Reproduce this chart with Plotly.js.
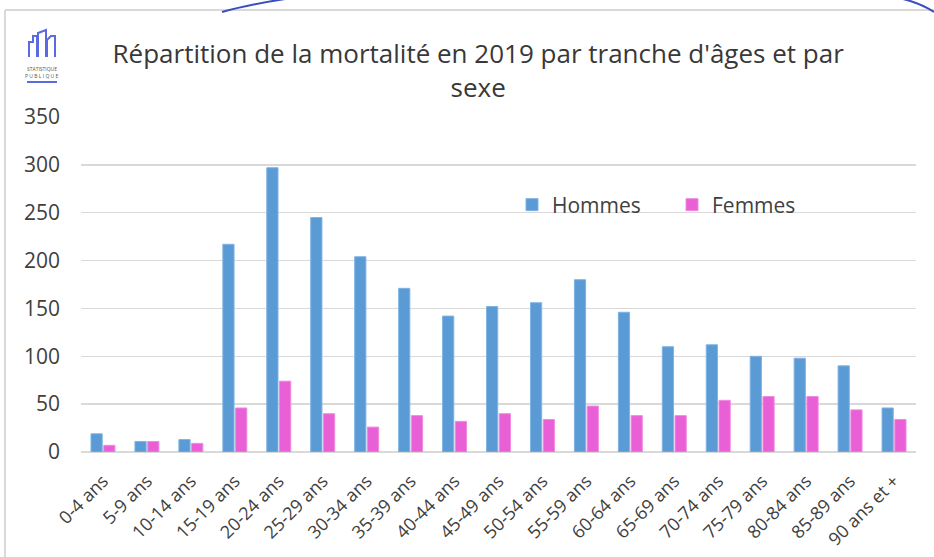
<!DOCTYPE html>
<html>
<head>
<meta charset="utf-8">
<script src="https://cdn.plot.ly/plotly-3.0.1.min.js"></script>
<style>html,body{margin:0;padding:0;background:#fff;}#chart{width:934px;height:557px;}</style>
</head>
<body>
<div id="chart"></div>
<script>
var categories = ["0-4 ans","5-9 ans","10-14 ans","15-19 ans","20-24 ans","25-29 ans","30-34 ans","35-39 ans","40-44 ans","45-49 ans","50-54 ans","55-59 ans","60-64 ans","65-69 ans","70-74 ans","75-79 ans","80-84 ans","85-89 ans","90 ans et +"];
var hommes = [19,11,13,217,297,245,204,171,142,152,156,180,146,110,112,100,98,90,46];
var femmes = [7,11,9,46,74,40,26,38,32,40,34,48,38,38,54,58,58,44,34];
var yTicks = [0,50,100,150,200,250,300,350];

var textColor = "#404040";
var FONT = "Open Sans, Liberation Sans, Arial, sans-serif";
var traces = [
  {type:"bar", name:"Hommes", x:categories, y:hommes, marker:{color:"#5b9bd5", line:{color:"#7fb3e3", width:1}}},
  {type:"bar", name:"Femmes", x:categories, y:femmes, marker:{color:"#e95fd5", line:{color:"#f08ae0", width:1}}}
];
// pixel -> paper helpers for decorations
function px(x){return (x-81)/(934-81-18);}
function py(y){return (557-105-y)/(557-117-105);}

var layout = {
  width:934, height:557,
  margin:{l:81, r:18, t:117, b:105},
  paper_bgcolor:"#fff", plot_bgcolor:"#fff",
  font:{family:FONT, color:textColor},
  title:{text:"Répartition de la mortalité en 2019 par tranche d'âges et par<br>sexe", x:0.512, xanchor:"center", y:1-63/557, yanchor:"middle", font:{size:26, color:"#383838", family:FONT}},
  barmode:"group", bargap:0.42, bargroupgap:0.12,
  showlegend:true,
  legend:{orientation:"h", x:px(512), y:py(205), xanchor:"left", yanchor:"middle", font:{size:21, color:textColor, family:FONT}, bgcolor:"rgba(0,0,0,0)", entrywidth:115, entrywidthmode:"pixels", traceorder:"normal"},
  xaxis:{type:"category", tickangle:-45, tickfont:{size:18, color:textColor, family:FONT}, showgrid:false, showline:false, ticks:"", zeroline:false, automargin:false, ticklabelstandoff:14},
  yaxis:{range:[0,350], tickvals:yTicks, tickfont:{size:21, color:textColor, family:FONT}, gridcolor:"#d9d9d9", gridwidth:1.5, zeroline:true, zerolinecolor:"#d9d9d9", zerolinewidth:1.5, showline:false, ticks:"", ticklabelstandoff:20, automargin:false}
};
layout.shapes = [
  {type:"line", xref:"paper", yref:"paper", x0:px(5), x1:px(5), y0:py(10), y1:py(557), line:{color:"#d9d9d9", width:2}},
  {type:"line", xref:"paper", yref:"paper", x0:px(5), x1:px(934), y0:py(10), y1:py(10), line:{color:"#d9d9d9", width:2}},
  {type:"path", xref:"paper", yref:"paper", path:"M "+px(222)+" "+py(12)+" Q "+px(250)+" "+py(4)+" "+px(292)+" "+py(-2), line:{color:"#3b4cc0", width:2}},
  {type:"path", xref:"paper", yref:"paper", path:"M "+px(903)+" "+py(-1)+" Q "+px(920)+" "+py(3)+" "+px(934)+" "+py(12), line:{color:"#3b4cc0", width:2}},
  // logo buildings
  {type:"path", xref:"paper", yref:"paper", path:"M "+px(29)+" "+py(57)+" L "+px(29)+" "+py(42)+" L "+px(33)+" "+py(42)+" L "+px(33)+" "+py(36)+" L "+px(37)+" "+py(36)+" L "+px(37)+" "+py(57), line:{color:"#5a6ae0", width:2}},
  {type:"path", xref:"paper", yref:"paper", path:"M "+px(38)+" "+py(57)+" L "+px(38)+" "+py(33)+" L "+px(46)+" "+py(30)+" L "+px(46)+" "+py(57), line:{color:"#5a6ae0", width:2}},
  {type:"path", xref:"paper", yref:"paper", path:"M "+px(47)+" "+py(57)+" L "+px(47)+" "+py(40)+" L "+px(51)+" "+py(36)+" L "+px(55)+" "+py(36)+" L "+px(55)+" "+py(57), line:{color:"#5a6ae0", width:2}},
  {type:"line", xref:"paper", yref:"paper", x0:px(27), x1:px(57), y0:py(82), y1:py(82), line:{color:"#5a6ae0", width:2}}
];
layout.annotations = [
  {xref:"paper", yref:"paper", x:px(42), y:py(69), text:"STATISTIQUE", showarrow:false, font:{size:5, color:"#555"}, xanchor:"center", yanchor:"middle"},
  {xref:"paper", yref:"paper", x:px(42), y:py(75.5), text:"P U B L I Q U E", showarrow:false, font:{size:5, color:"#555"}, xanchor:"center", yanchor:"middle"}
];
Plotly.newPlot("chart", traces, layout, {displayModeBar:false, staticPlot:true});
</script>
</body>
</html>
